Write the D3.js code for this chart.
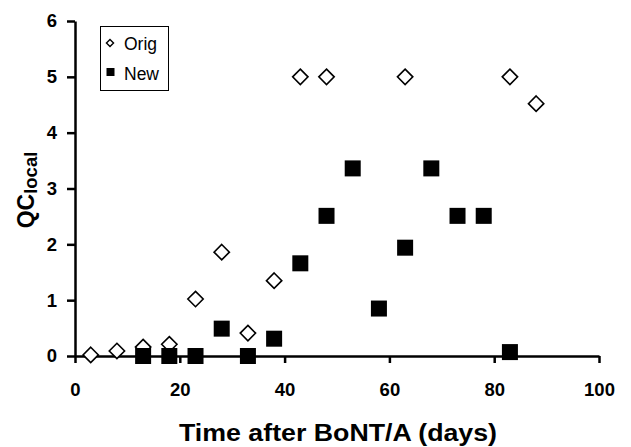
<!DOCTYPE html>
<html>
<head>
<meta charset="utf-8">
<script src="https://cdn.jsdelivr.net/npm/d3@7"></script>
<style>
  body { margin: 0; background: #fff; }
  text { font-family: "Liberation Sans", Arial, sans-serif; }
</style>
</head>
<body>
<div id="chart"></div>
<script>
// values
const origDays = [3, 8, 13, 18, 23, 28, 33, 38, 43, 48, 63, 83, 88];
const origQC = [0.02, 0.09, 0.16, 0.21, 1.02, 1.86, 0.41, 1.35, 5, 5, 5, 5, 4.52];
const newDays = [13, 18, 23, 28, 33, 38, 43, 48, 53, 58, 63, 68, 73, 78, 83];
const newQC = [0, 0, 0, 0.49, 0, 0.31, 1.66, 2.51, 3.36, 0.85, 1.94, 3.36, 2.51, 2.51, 0.07];
const xTicks = [0, 20, 40, 60, 80, 100];
const yTicks = [0, 1, 2, 3, 4, 5, 6];

const width = 631;
const height = 447;
const margin = { left: 75, right: 32, top: 21, bottom: 91 };

const svg = d3
  .select("#chart")
  .append("svg")
  .attr("width", width)
  .attr("height", height);

let x = d3.scaleLinear().domain([0, 100]).range([margin.left, width - margin.right]);
let y = d3.scaleLinear().domain([0, 6]).range([height - margin.bottom, margin.top]);

// axes
const xAxis = svg
  .append("g")
  .attr("transform", `translate(0, ${y(0)})`)
  .call(d3.axisBottom(x).tickValues(xTicks).tickFormat(d3.format("d")).tickSize(7).tickPadding(20).tickSizeOuter(0));
const yAxis = svg
  .append("g")
  .attr("transform", `translate(${x(0)}, 0)`)
  .call(d3.axisLeft(y).tickValues(yTicks).tickFormat(d3.format("d")).tickSize(8).tickPadding(10).tickSizeOuter(0));

[xAxis, yAxis].forEach((g) => {
  g.select(".domain").attr("stroke", "#000").attr("stroke-width", 2.5);
  g.selectAll(".tick line").attr("stroke", "#000").attr("stroke-width", 2.5);
  g.selectAll("text")
    .style("font-size", "18.5px")
    .style("font-weight", "bold")
    .style("font-family", "Liberation Sans, Arial, sans-serif")
    .attr("fill", "#000");
});

// orig: open diamonds
const diamond = d3.symbol().type(d3.symbolDiamond2).size(150);
svg
  .selectAll("path.orig")
  .data(origDays)
  .enter()
  .append("path")
  .attr("class", "orig")
  .attr("d", diamond)
  .attr("transform", (d, i) => `translate(${x(d)}, ${y(origQC[i])})`)
  .attr("fill", "#fff")
  .attr("stroke", "#000")
  .attr("stroke-width", 1.6);

// new: filled squares
const sq = 16;
svg
  .selectAll("rect.new")
  .data(newDays)
  .enter()
  .append("rect")
  .attr("class", "new")
  .attr("x", (d) => x(d) - sq / 2)
  .attr("y", (d, i) => y(newQC[i]) - sq / 2)
  .attr("width", sq)
  .attr("height", sq)
  .attr("fill", "#000");

// legend
const legend = svg.append("g");
legend
  .append("rect")
  .attr("x", 100.5)
  .attr("y", 26.5)
  .attr("width", 68)
  .attr("height", 64)
  .attr("fill", "#fff")
  .attr("stroke", "#000")
  .attr("stroke-width", 1);
legend
  .append("path")
  .attr("d", d3.symbol().type(d3.symbolDiamond2).size(32))
  .attr("transform", "translate(110, 43)")
  .attr("fill", "#fff")
  .attr("stroke", "#000")
  .attr("stroke-width", 1.4);
legend
  .append("rect")
  .attr("x", 106.5)
  .attr("y", 68)
  .attr("width", 8)
  .attr("height", 8)
  .attr("fill", "#000");
legend
  .append("text")
  .attr("x", 124)
  .attr("y", 49.5)
  .style("font-size", "17.5px")
  .text("Orig");
legend
  .append("text")
  .attr("x", 124)
  .attr("y", 80)
  .style("font-size", "17.5px")
  .text("New");

// axis titles
svg
  .append("text")
  .attr("x", 179)
  .attr("y", 441)
  .attr("textLength", 318)
  .attr("lengthAdjust", "spacingAndGlyphs")
  .style("font-size", "23px")
  .style("font-weight", "bold")
  .text("Time after BoNT/A (days)");

const yTitle = svg
  .append("text")
  .attr("transform", "translate(34, 190) rotate(-90)")
  .attr("text-anchor", "middle")
  .style("font-weight", "bold");
yTitle.append("tspan").style("font-size", "23px").text("QC");
yTitle
  .append("tspan")
  .attr("dy", 3)
  .style("font-size", "18.5px")
  .text("local");
</script>
</body>
</html>
